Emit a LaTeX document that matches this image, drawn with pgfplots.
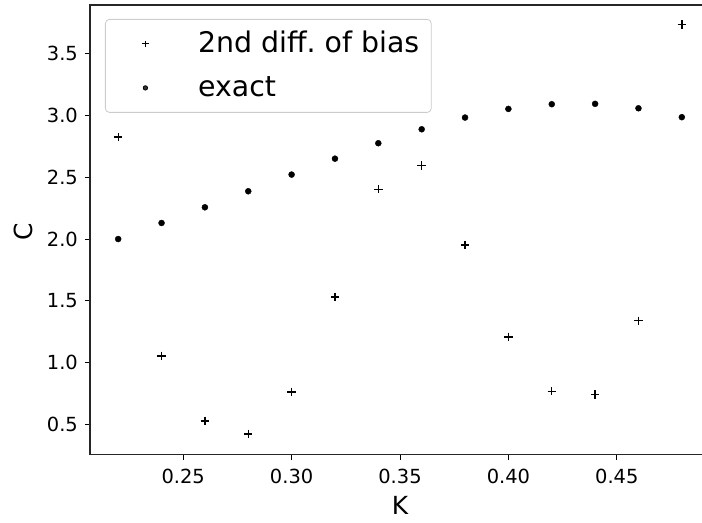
\documentclass[border=0pt]{standalone}
\usepackage{fontspec}
\setmainfont{DejaVu Sans}
\usepackage{pgfplots}
\pgfplotsset{compat=1.18}
\begin{document}
\begin{tikzpicture}
\path[use as bounding box] (-90bp,-68bp) rectangle (612bp,454.5bp);
\begin{axis}[
  scale only axis, width=620bp, height=449.5bp,
  xmin=0.207, xmax=0.493, ymin=0.255, ymax=3.8955,
  xtick={0.25,0.3,0.35,0.4,0.45},
  ytick={0.5,1,1.5,2,2.5,3,3.5},
  /pgf/number format/assume math mode=true,
  xticklabel style={/pgf/number format/fixed, /pgf/number format/fixed zerofill, /pgf/number format/precision=2,
    anchor=center, inner sep=0pt, yshift=-16.7bp},
  yticklabel style={/pgf/number format/fixed, /pgf/number format/fixed zerofill, /pgf/number format/precision=1,
    anchor=east, inner sep=0pt, xshift=-7bp},
  tick label style={font=\fontsize{19.5}{23}\selectfont},
  tick pos=left, tick align=outside, major tick length=5bp,
  every tick/.style={black, line width=1bp},
  axis line style={black!85, line width=1.2bp},
  xlabel={K}, ylabel={C},
  label style={font=\fontsize{25}{30}\selectfont},
  xlabel style={at={(axis description cs:0.5,0)}, anchor=center, yshift=-50.7bp},
  ylabel style={at={(axis description cs:0,0.5)}, anchor=center, xshift=-2bp, yshift=67bp},
  legend style={at={(axis description cs:0,1)}, anchor=north west, xshift=15bp, yshift=-14bp,
    draw=black!20, line width=0.8bp, rounded corners=4bp, fill=white, fill opacity=0.8, text opacity=1,
    font=\fontsize{28.5}{34}\selectfont, inner xsep=12bp, inner ysep=2.5bp, row sep=0pt,
    nodes={inner sep=0pt, text height=30.8bp, text depth=13.2bp}},
  legend cell align=left,
  legend image code/.code={\path[draw=none] (0bp,-10.4bp) rectangle (80.7bp,10.4bp); \draw[#1] plot coordinates {(28bp,0bp)};},
]
\addplot[only marks, mark=+, mark size=4.2bp, line width=1.35bp, black,
  legend image post style={mark size=3.2bp, line width=1.1bp}] coordinates {
(0.22,2.825) (0.24,1.054) (0.26,0.527) (0.28,0.422) (0.30,0.762) (0.32,1.532) (0.34,2.403)
(0.36,2.595) (0.38,1.951) (0.40,1.208) (0.42,0.767) (0.44,0.740) (0.46,1.338) (0.48,3.738)};
\addlegendentry{2nd diff.\ of bias}
\addplot[only marks, mark=*, mark size=3bp, black,
  legend image post style={mark size=2.2bp}] coordinates {
(0.22,2.000) (0.24,2.130) (0.26,2.257) (0.28,2.387) (0.30,2.522) (0.32,2.651) (0.34,2.776)
(0.36,2.889) (0.38,2.984) (0.40,3.054) (0.42,3.092) (0.44,3.095) (0.46,3.059) (0.48,2.987)};
\addlegendentry{exact}
\end{axis}
\end{tikzpicture}
\end{document}
